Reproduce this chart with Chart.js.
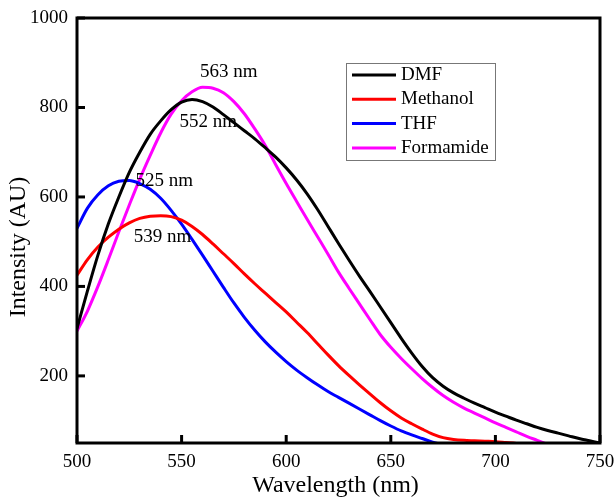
<!DOCTYPE html>
<html>
<head>
<meta charset="utf-8">
<script src="https://cdn.jsdelivr.net/npm/chart.js@4.4.1/dist/chart.umd.min.js"></script>
<style>
  body { margin: 0; background: #fff; }
  canvas { display: block; }
</style>
</head>
<body>
<canvas id="myChart" width="615" height="501"></canvas>
<script>
// emission spectra in four solvents, 5 nm steps
const wavelengths = [500, 505, 510, 515, 520, 525, 530, 535, 540, 545, 550, 555, 560, 565, 570, 575, 580, 585, 590, 595,
  600, 605, 610, 615, 620, 625, 630, 635, 640, 645, 650, 655, 660, 665, 670, 675, 680, 685, 690, 695,
  700, 705, 710, 715, 720, 725, 730, 735, 740, 745, 750];

const solvents = ["DMF", "Methanol", "THF", "Formamide"];

const dmf = [306, 390, 470, 540, 600, 655, 700, 740, 770, 795, 812, 818, 813, 801, 784, 766, 748, 730, 710, 689,
  665, 638, 607, 572, 534, 496, 459, 423, 389, 354, 319, 284, 251, 221, 196, 177, 162, 150, 139, 129,
  119, 110, 101, 93, 85, 78, 72, 66, 60, 55, 50];
const methanol = [425, 460, 488, 510, 528, 542, 552, 557, 558, 556, 548, 534, 516, 495, 473, 451, 428, 406, 385, 364,
  343, 320, 297, 272, 247, 223, 201, 180, 160, 140, 122, 106, 93, 81, 70, 62, 58, 56, 55, 54,
  53, 51, 49];
const thf = [530, 575, 605, 625, 635, 637, 630, 617, 597, 570, 539, 505, 470, 434, 398, 363, 331, 302, 276, 253,
  232, 213, 196, 180, 165, 152, 139, 126, 113, 100, 88, 77, 68, 60, 52, 46];
const formamide = [300, 345, 400, 460, 522, 582, 640, 693, 743, 785, 815, 835, 845, 843, 833, 813, 786, 752, 715, 672,
  630, 590, 550, 511, 472, 432, 396, 361, 326, 292, 264, 239, 216, 194, 174, 156, 141, 128, 117, 106,
  95, 85, 75, 65, 56, 47];

const lineColors = ["#000000", "#ff0000", "#0000ff", "#ff00ff"];

// peak labels, placed in data units
const peakLabels = ["563 nm", "552 nm", "525 nm", "539 nm"];
const peakLabelAt = [[572.6, 879], [562.7, 767], [541.7, 635], [540.9, 511]];

const yTicks = [200, 400, 600, 800, 1000];

const serif = "'Liberation Serif', 'Times New Roman', serif";

function toPoints(values) {
  return values.map((v, i) => ({ x: wavelengths[i], y: v }));
}

// frame, inward ticks, axis titles, peak labels and legend box
const decorations = {
  id: "decorations",
  afterDraw(chart) {
    const ctx = chart.ctx;
    const area = chart.chartArea;
    const xs = chart.scales.x;
    const ys = chart.scales.y;
    ctx.save();

    ctx.strokeStyle = "#000";
    ctx.lineWidth = 3;
    ctx.strokeRect(area.left, area.top, area.right - area.left, area.bottom - area.top);

    xs.ticks.forEach((t) => {
      const px = xs.getPixelForValue(t.value);
      ctx.beginPath();
      ctx.moveTo(px, area.bottom);
      ctx.lineTo(px, area.bottom - 8);
      ctx.stroke();
    });
    ys.ticks.forEach((t) => {
      const py = ys.getPixelForValue(t.value);
      ctx.beginPath();
      ctx.moveTo(area.left, py);
      ctx.lineTo(area.left + 8, py);
      ctx.stroke();
    });

    ctx.fillStyle = "#000";
    ctx.font = "24px " + serif;
    ctx.textAlign = "center";
    ctx.textBaseline = "middle";
    ctx.fillText("Wavelength (nm)", (area.left + area.right) / 2 - 3, 486);
    ctx.save();
    ctx.translate(19, 247);
    ctx.rotate(-Math.PI / 2);
    ctx.fillText("Intensity (AU)", 0, 0);
    ctx.restore();

    ctx.font = "19px " + serif;
    peakLabels.forEach((txt, i) => {
      ctx.fillText(txt, xs.getPixelForValue(peakLabelAt[i][0]), ys.getPixelForValue(peakLabelAt[i][1]));
    });

    // legend
    const bx = 346, by = 63, bw = 149, bh = 97;
    ctx.lineWidth = 1;
    ctx.strokeStyle = "#777";
    ctx.strokeRect(bx + 0.5, by + 0.5, bw, bh);
    ctx.textAlign = "left";
    chart.data.datasets.forEach((ds, i) => {
      const ry = 75 + i * 24.3;
      ctx.strokeStyle = ds.borderColor;
      ctx.lineWidth = 3;
      ctx.beginPath();
      ctx.moveTo(352, ry);
      ctx.lineTo(396, ry);
      ctx.stroke();
      ctx.fillStyle = "#000";
      ctx.fillText(ds.label, 401, ry);
    });
    ctx.restore();
  },
};

const chart = new Chart(document.getElementById("myChart").getContext("2d"), {
  type: "line",
  data: {
    datasets: [dmf, methanol, thf, formamide].map((vals, i) => ({
      label: solvents[i],
      data: toPoints(vals),
      borderColor: lineColors[i],
      borderWidth: 3,
      pointRadius: 0,
      fill: false,
      cubicInterpolationMode: "monotone",
    })),
  },
  options: {
    responsive: false,
    animation: false,
    events: [],
    layout: { padding: { top: 18, right: 15, left: 0, bottom: 0 } },
    plugins: { legend: { display: false }, tooltip: { enabled: false } },
    scales: {
      x: {
        type: "linear",
        min: 500,
        max: 750,
        grid: { display: false },
        border: { display: false },
        ticks: { stepSize: 50, color: "#000", font: { family: serif, size: 19 }, padding: 0, maxRotation: 0 },
        afterFit: (s) => { s.height = 58; },
      },
      y: {
        min: 50,
        max: 1000,
        grid: { display: false },
        border: { display: false },
        ticks: { color: "#000", font: { family: serif, size: 19 }, padding: 1, callback: (v) => String(v) },
        afterBuildTicks: (s) => { s.ticks = yTicks.map((v) => ({ value: v })); },
        afterFit: (s) => { s.width = 77; },
      },
    },
  },
  plugins: [decorations],
});
</script>
</body>
</html>
